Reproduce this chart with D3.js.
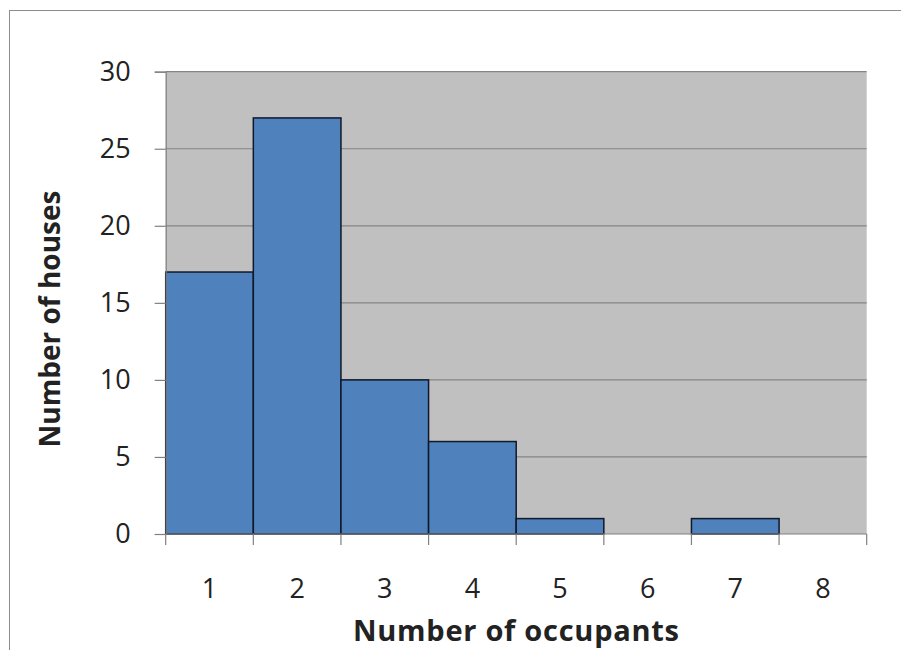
<!DOCTYPE html>
<html>
<head>
<meta charset="utf-8">
<script src="https://cdn.jsdelivr.net/npm/d3@7"></script>
<style>
  html, body { margin: 0; padding: 0; background: #fff; }
  svg { display: block; }
  text { font-family: "Open Sans", Lato, sans-serif; fill: #222; }
</style>
</head>
<body>
<svg id="chart" width="901" height="650"></svg>
<script>
// Households by number of occupants
const occupants = ["1", "2", "3", "4", "5", "6", "7", "8"];
const houses = [17, 27, 10, 6, 1, 0, 1, 0];
const yTicks = [0, 5, 10, 15, 20, 25, 30];
const xTitle = "Number of occupants";
const yTitle = "Number of houses";

const svg = d3.select("#chart");
const margin = { left: 165.7, right: 34.3, top: 71.7, bottom: 116 };
const W = 901, H = 650;
const x0 = margin.left, x1 = W - margin.right;
const y0 = H - margin.bottom, y1 = margin.top;

const x = d3.scaleBand().domain(occupants).range([x0, x1]).padding(0);
const y = d3.scaleLinear().domain([0, 30]).range([y0, y1]);

// outer chart frame
svg.append("rect")
  .attr("x", 9.5).attr("y", 10.5).attr("width", 900).attr("height", 660)
  .attr("fill", "#fff").attr("stroke", "#8c8c8c").attr("stroke-width", 1);

// plot area background
svg.append("rect")
  .attr("x", x0).attr("y", y1).attr("width", x1 - x0).attr("height", y0 - y1)
  .attr("fill", "#c0c0c0");

// horizontal gridlines
svg.append("g").selectAll("line").data(yTicks.filter(d => d > 0)).join("line")
  .attr("x1", x0).attr("x2", x1)
  .attr("y1", d => y(d)).attr("y2", d => y(d))
  .attr("stroke", "#858585").attr("stroke-width", 1.2);

// bars
svg.append("g").selectAll("rect").data(occupants.map((c, i) => ({ c, v: houses[i] })).filter(d => d.v > 0)).join("rect")
  .attr("x", d => x(d.c)).attr("width", x.bandwidth())
  .attr("y", d => y(d.v)).attr("height", d => y(0) - y(d.v))
  .attr("fill", "#4f81bd").attr("stroke", "#10182a").attr("stroke-width", 1.5);

// y axis
const yAxis = svg.append("g").attr("transform", `translate(${x0},0)`)
  .call(d3.axisLeft(y).tickValues(yTicks).tickSize(11).tickPadding(24).tickFormat(d3.format("d")));
yAxis.select(".domain").attr("stroke", "#808080").attr("stroke-width", 1.2);
yAxis.selectAll(".tick line").attr("stroke", "#808080").attr("stroke-width", 1.2);
yAxis.selectAll(".tick text").attr("font-size", 27).attr("fill", "#222")
  .attr("font-family", "'Open Sans', Lato, sans-serif");

// x axis: ticks sit at category boundaries
const bounds = occupants.map(c => x(c)).concat([x1]);
const xg = svg.append("g");
xg.append("line").attr("x1", x0).attr("x2", x1).attr("y1", y0).attr("y2", y0)
  .attr("stroke", "#808080").attr("stroke-width", 1.2);
xg.selectAll("line.tk").data(bounds).join("line").attr("class", "tk")
  .attr("x1", d => d).attr("x2", d => d).attr("y1", y0).attr("y2", y0 + 11)
  .attr("stroke", "#808080").attr("stroke-width", 1.2);
xg.selectAll("text").data(occupants).join("text")
  .attr("x", d => x(d) + x.bandwidth() / 2).attr("y", 598)
  .attr("text-anchor", "middle").attr("font-size", 27)
  .text(d => d);

// axis titles
svg.append("text")
  .attr("x", 516).attr("y", 641)
  .attr("text-anchor", "middle").attr("font-size", 29).attr("font-weight", "bold")
  .attr("textLength", 326).attr("lengthAdjust", "spacing")
  .text(xTitle);
svg.append("text")
  .attr("transform", "translate(60,319) rotate(-90)")
  .attr("text-anchor", "middle").attr("font-size", 28).attr("font-weight", "bold")
  .text(yTitle);
</script>
</body>
</html>
